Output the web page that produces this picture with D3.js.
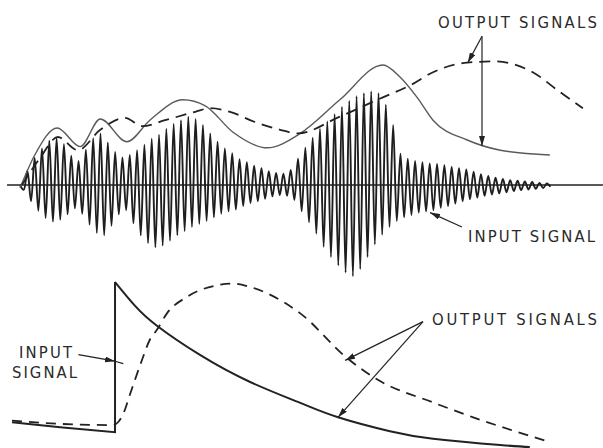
<!DOCTYPE html>
<html>
<head>
<meta charset="utf-8">
<script src="https://cdn.jsdelivr.net/npm/d3@7"></script>
<style>
  body { margin: 0; background: #fff; }
  text { font-family: "DejaVu Sans", sans-serif; font-stretch: condensed; fill: #2a2a2a; }
</style>
</head>
<body>
<div id="chart"></div>
<script>
// shared time axis, arbitrary units 0..100
// upper panel: burst input, one peak + one trough per cycle
const cycleStart = 1.7;
const cyclePeriod = 1.24;
const inputPeaks = [
  0.0, 1.2, 2.25, 3.05, 3.7, 3.9, 3.4, 2.45, 2.0, 2.95,
  3.9, 4.3, 3.55, 2.75, 2.3, 2.5, 2.9, 3.35, 3.85, 4.2,
  4.7, 5.1, 5.4, 5.7, 5.5, 5.0, 4.3, 3.6, 3.05, 2.65,
  2.15, 1.9, 1.6, 1.4, 1.15, 1.0, 0.95, 1.25, 2.2, 3.1,
  3.95, 4.7, 5.3, 5.9, 6.5, 7.0, 7.4, 7.65, 7.8, 7.65,
  6.7, 5.0, 2.6, 2.2, 2.0, 1.9, 1.8, 1.75, 1.65, 1.5,
  1.4, 1.3, 1.1, 0.9, 0.75, 0.6, 0.5, 0.4, 0.35, 0.3,
  0.25, 0.18, 0.12
];
const inputTroughs = [
  -0.4, -1.35, -2.15, -2.75, -3.05, -2.9, -2.45, -1.95, -2.4, -3.3,
  -4.0, -4.2, -3.4, -2.45, -2.1, -3.2, -4.2, -4.85, -5.2, -5.05,
  -4.65, -4.2, -3.85, -3.5, -3.25, -3.0, -2.7, -2.4, -2.2, -2.05,
  -1.75, -1.5, -1.35, -1.15, -0.95, -0.85, -0.9, -1.25, -2.2, -3.1,
  -4.05, -5.15, -6.0, -6.7, -7.3, -7.6, -7.0, -6.0, -4.95, -4.15,
  -3.5, -3.0, -2.7, -2.5, -2.3, -2.2, -2.1, -1.9, -1.75, -1.55,
  -1.35, -1.2, -1.05, -0.9, -0.8, -0.7, -0.6, -0.5, -0.43, -0.37,
  -0.32, -0.26, -0.15
];
// upper panel outputs [t, value]
const upperSolid = [
  [1.7, -0.25], [4.2, 2.5], [8.0, 4.75], [11.9, 3.2], [15.3, 5.5],
  [19.8, 3.6], [23.7, 5.4], [29.3, 7.1], [33.1, 6.6], [37.8, 4.4],
  [43.6, 3.1], [49.2, 4.3], [55.9, 7.1], [63.2, 10.0], [66.1, 9.0],
  [69.0, 7.3], [71.7, 5.4], [77.5, 3.75], [83.1, 2.9], [91.5, 2.5]
];
const upperDashed = [
  [2.0, 0], [5.1, 2.25], [8.1, 4.0], [11.5, 2.9], [15.3, 4.6],
  [19.5, 5.6], [22.4, 4.9], [26.3, 5.4], [31.4, 6.1], [33.9, 6.4],
  [37.3, 6.1], [41.5, 5.25], [45.8, 4.6], [48.8, 4.3], [55.9, 5.7],
  [63.2, 7.3], [67.8, 8.3], [71.7, 9.4], [77.5, 10.2], [82.2, 10.3],
  [88.6, 9.4], [93.2, 7.75], [97.1, 6.4]
];
// lower panel: step input and its decay, plus the dashed output
const lowerSolidBefore = [[0.34, 1.5], [8.5, 1.2], [17.8, 0.9]];
const lowerSolidDecay = [
  [17.8, 10], [21.2, 8.55], [24.9, 7.35], [32.2, 5.58], [40.7, 3.94],
  [49.2, 2.67], [55.6, 1.8], [64.4, 0.95], [71.7, 0.5], [83.1, 0.12], [88.1, 0]
];
const lowerDashed = [
  [0.34, 1.6], [8.5, 1.4], [17.5, 1.33], [18.3, 1.5], [19.3, 2.1],
  [20.3, 3.15], [22.4, 5.3], [23.7, 6.5], [24.9, 7.1], [26.6, 8.1],
  [30.0, 9.1], [35.1, 9.8], [37.8, 9.9], [40.7, 9.7], [46.3, 8.8],
  [49.2, 8.1], [57.1, 5.4], [62.2, 4.1], [71.7, 2.7], [78.5, 1.8], [91.5, 0.3]
];

const width = 603;
const height = 448;

const x = d3.scaleLinear().domain([0, 100]).range([10, 600]);
const yTop = d3.scaleLinear().domain([-10, 10]).range([305, 65]);
const yBot = d3.scaleLinear().domain([0, 10]).range([447, 282]);

const svg = d3.select('#chart')
  .append('svg')
  .attr('width', width)
  .attr('height', height);

svg.append('defs').append('marker')
  .attr('id', 'arrow')
  .attr('viewBox', '0 0 10 6')
  .attr('refX', 10).attr('refY', 3)
  .attr('markerWidth', 10).attr('markerHeight', 6)
  .attr('markerUnits', 'userSpaceOnUse')
  .attr('orient', 'auto')
  .append('path')
  .attr('d', 'M0,0 L10,3 L0,6 Z')
  .attr('fill', '#222');

/* Upper panel */
svg.append('line')
  .attr('x1', x(-0.5)).attr('x2', x(100.5))
  .attr('y1', yTop(0)).attr('y2', yTop(0))
  .attr('stroke', '#222').attr('stroke-width', 1.4);

const inputPts = [];
inputPeaks.forEach((p, i) => {
  const t = cycleStart + i * cyclePeriod;
  inputPts.push([t, p]);
  inputPts.push([t + cyclePeriod / 2, inputTroughs[i]]);
});

const topLine = d3.line()
  .x(d => x(d[0]))
  .y(d => yTop(d[1]));

svg.append('path')
  .datum(inputPts)
  .attr('d', topLine.curve(d3.curveCatmullRom))
  .attr('fill', 'none')
  .attr('stroke', '#1e1e1e')
  .attr('stroke-width', 1.9);

svg.append('path')
  .datum(upperSolid)
  .attr('d', topLine.curve(d3.curveMonotoneX))
  .attr('fill', 'none')
  .attr('stroke', '#5a5a5a')
  .attr('stroke-width', 1.4);

svg.append('path')
  .datum(upperDashed)
  .attr('d', topLine.curve(d3.curveMonotoneX))
  .attr('fill', 'none')
  .attr('stroke', '#222')
  .attr('stroke-width', 1.8)
  .attr('stroke-dasharray', '11,7');

/* Lower panel */
const botLine = d3.line()
  .x(d => x(d[0]))
  .y(d => yBot(d[1]));

svg.append('path')
  .datum(lowerSolidBefore.concat([lowerSolidDecay[0]]))
  .attr('d', botLine.curve(d3.curveLinear))
  .attr('fill', 'none')
  .attr('stroke', '#222')
  .attr('stroke-width', 2);

svg.append('path')
  .datum(lowerSolidDecay)
  .attr('d', botLine.curve(d3.curveNatural))
  .attr('fill', 'none')
  .attr('stroke', '#222')
  .attr('stroke-width', 2);

svg.append('path')
  .datum(lowerDashed)
  .attr('d', botLine.curve(d3.curveMonotoneX))
  .attr('fill', 'none')
  .attr('stroke', '#222')
  .attr('stroke-width', 1.8)
  .attr('stroke-dasharray', '10,7');

/* Labels and leaders */
const leader = (x1, y1, x2, y2) => svg.append('line')
  .attr('x1', x1).attr('y1', y1).attr('x2', x2).attr('y2', y2)
  .attr('stroke', '#222').attr('stroke-width', 1.2)
  .attr('marker-end', 'url(#arrow)');

const label = (txt, tx, ty, len) => svg.append('text')
  .attr('x', tx).attr('y', ty)
  .attr('font-size', 16.5)
  .attr('textLength', len)
  .attr('lengthAdjust', 'spacing')
  .text(txt);

// upper: outputs
label('OUTPUT SIGNALS', 438, 28, 159);
leader(x(80.0), yTop(12.4), x(77.6), yTop(10.2));
leader(x(80.0), yTop(12.4), x(80.0), yTop(3.25));
// upper: input
label('INPUT SIGNAL', 468, 242, 127);
leader(x(76.6), yTop(-3.5), x(71.2), yTop(-2.3));
// lower: input
label('INPUT', 19, 358, 53);
label('SIGNAL', 12, 378, 65);
leader(x(11.6), yBot(5.6), x(17.8), yBot(5.2));
svg.append('line')
  .attr('x1', x(17.8)).attr('y1', yBot(5.2))
  .attr('x2', x(19.2)).attr('y2', yBot(5.05))
  .attr('stroke', '#222').attr('stroke-width', 1.2);
// lower: outputs
label('OUTPUT SIGNALS', 432, 325, 165);
leader(x(70.0), yBot(7.6), x(56.8), yBot(5.25));
leader(x(70.0), yBot(7.6), x(55.6), yBot(1.8));
</script>
</body>
</html>
